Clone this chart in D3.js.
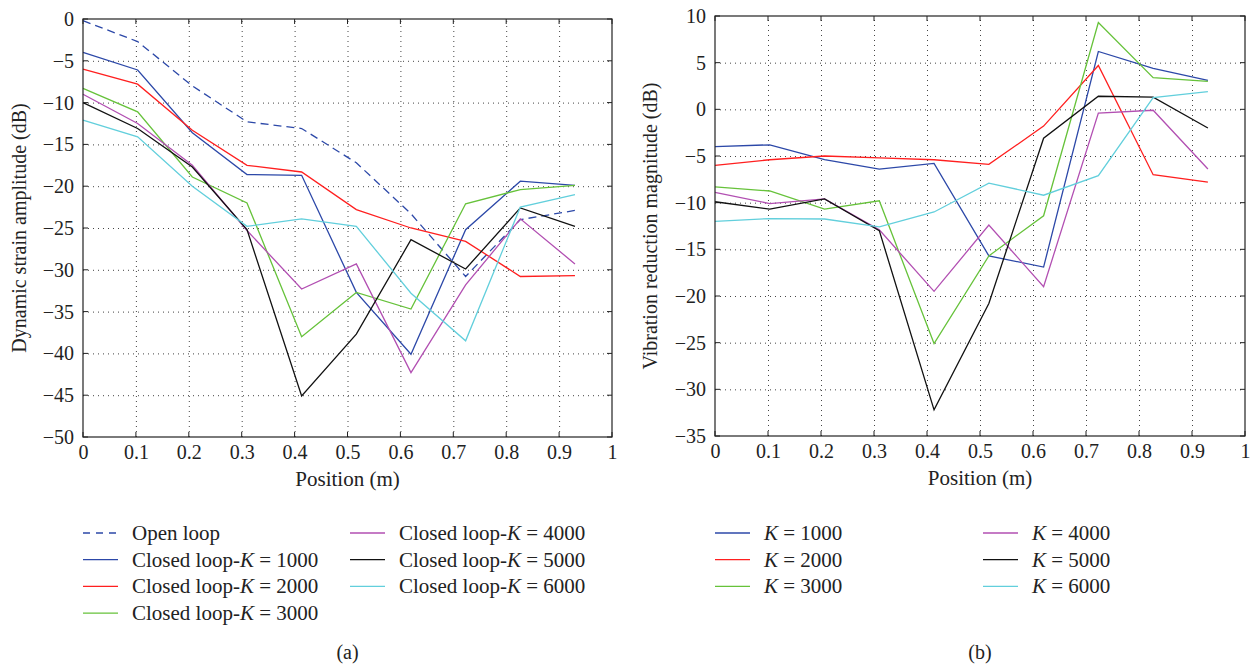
<!DOCTYPE html>
<html>
<head>
<meta charset="utf-8">
<script src="https://cdn.jsdelivr.net/npm/d3@7"></script>
<style>
  body { margin: 0; background: #fff; }
  svg text { font-family: "Liberation Serif", "DejaVu Serif", serif; fill: #222; }
  .grid line { stroke: #444; stroke-dasharray: 1,4; stroke-width: 1; }
  .grid path { display: none; }
  .lab text { font-size: 20px; }
  .lab path, .lab line { display: none; }
</style>
</head>
<body>
<div class="canvas"></div>
<script>
// positions along the beam (m)
const positions = [0, 0.1033, 0.2067, 0.31, 0.4133, 0.5167, 0.62, 0.7233, 0.8267, 0.93];

// (a) dynamic strain amplitude (dB)
const openLoop   = [-0.2, -2.7, -8.0, -12.3, -13.1, -17.2, -23.3, -30.8, -24.0, -22.9];
const closedK1000 = [-4.0, -6.1, -13.6, -18.6, -18.7, -32.7, -40.1, -25.2, -19.4, -19.9];
const closedK2000 = [-6.0, -7.8, -13.3, -17.5, -18.3, -22.8, -25.0, -26.6, -30.8, -30.7];
const closedK3000 = [-8.3, -11.1, -18.9, -22.0, -38.0, -32.7, -34.7, -22.1, -20.4, -19.9];
const closedK4000 = [-9.0, -12.5, -17.5, -25.3, -32.3, -29.3, -42.3, -31.8, -23.9, -29.3];
const closedK5000 = [-10.0, -13.1, -17.7, -25.2, -45.1, -37.7, -26.4, -29.9, -22.6, -24.8];
const closedK6000 = [-12.1, -14.1, -20.0, -24.8, -23.9, -24.8, -32.8, -38.5, -22.5, -21.0];

// (b) vibration reduction magnitude (dB)
const redK1000 = [-4.0, -3.8, -5.4, -6.4, -5.8, -15.7, -16.9, 6.2, 4.4, 3.1];
const redK2000 = [-6.0, -5.4, -5.0, -5.2, -5.4, -5.9, -1.8, 4.7, -7.0, -7.8];
const redK3000 = [-8.3, -8.75, -10.7, -9.8, -25.1, -15.7, -11.4, 9.3, 3.4, 3.0];
const redK4000 = [-8.9, -10.1, -9.6, -12.9, -19.5, -12.4, -19.0, -0.4, -0.1, -6.4];
const redK5000 = [-9.9, -10.7, -9.6, -13.0, -32.2, -20.8, -3.1, 1.4, 1.3, -2.0];
const redK6000 = [-12.0, -11.7, -11.75, -12.6, -11.0, -7.9, -9.2, -7.1, 1.25, 1.9];

const xTicks = [0, 0.1, 0.2, 0.3, 0.4, 0.5, 0.6, 0.7, 0.8, 0.9, 1];
const yTicksA = [0, -5, -10, -15, -20, -25, -30, -35, -40, -45, -50];
const yTicksB = [10, 5, 0, -5, -10, -15, -20, -25, -30, -35];

const colors = ['#2c48a8', '#ff1f1f', '#66c23a', '#b24fb2', '#111111', '#62cfdc'];

const svg = d3.select('.canvas').append('svg')
    .attr('width', 1255)
    .attr('height', 665);

function fmt(d) {
  return d < 0 ? '\u2212' + Math.abs(d) : String(d);
}

function panel(opt) {
  const g = svg.append('g');
  const x = d3.scaleLinear().domain([0, 1]).range([opt.left, opt.right]);
  const y = d3.scaleLinear().domain(opt.yDomain).range([opt.top, opt.bottom]);
  const w = opt.right - opt.left, h = opt.bottom - opt.top;

  // dotted grid
  g.append('g').attr('class', 'grid')
      .attr('transform', `translate(0,${opt.bottom})`)
      .call(d3.axisBottom(x).tickValues(xTicks.slice(1, -1)).tickSize(-h).tickFormat(''));
  g.append('g').attr('class', 'grid')
      .attr('transform', `translate(${opt.left},0)`)
      .call(d3.axisLeft(y).tickValues(opt.yTicks.slice(1, -1)).tickSize(-w).tickFormat(''));

  // inner ticks on all sides
  const tk = 5;
  xTicks.forEach(t => {
    g.append('line').attr('x1', x(t)).attr('x2', x(t)).attr('y1', opt.bottom).attr('y2', opt.bottom - tk).attr('stroke', '#222');
    g.append('line').attr('x1', x(t)).attr('x2', x(t)).attr('y1', opt.top).attr('y2', opt.top + tk).attr('stroke', '#222');
  });
  opt.yTicks.forEach(t => {
    g.append('line').attr('x1', opt.left).attr('x2', opt.left + tk).attr('y1', y(t)).attr('y2', y(t)).attr('stroke', '#222');
    g.append('line').attr('x1', opt.right).attr('x2', opt.right - tk).attr('y1', y(t)).attr('y2', y(t)).attr('stroke', '#222');
  });

  // tick labels
  g.append('g').attr('class', 'lab')
      .attr('transform', `translate(0,${opt.bottom})`)
      .call(d3.axisBottom(x).tickValues(xTicks).tickSize(0).tickPadding(8).tickFormat(d => String(d)));
  g.append('g').attr('class', 'lab')
      .attr('transform', `translate(${opt.left},0)`)
      .call(d3.axisLeft(y).tickValues(opt.yTicks).tickSize(0).tickPadding(9).tickFormat(fmt));

  // lines
  const line = d3.line().x((d, i) => x(positions[i])).y(d => y(d));
  opt.series.forEach(s => {
    g.append('path')
        .attr('d', line(s.values))
        .attr('fill', 'none')
        .attr('stroke', s.color)
        .attr('stroke-width', 1.3)
        .attr('stroke-dasharray', s.dash || null);
  });

  // frame
  g.append('rect')
      .attr('x', opt.left).attr('y', opt.top)
      .attr('width', w).attr('height', h)
      .attr('fill', 'none').attr('stroke', '#222').attr('stroke-width', 1.2);

  // axis titles
  g.append('text')
      .attr('x', (opt.left + opt.right) / 2).attr('y', opt.bottom + 49)
      .attr('text-anchor', 'middle').attr('font-size', 21)
      .text('Position (m)');
  g.append('text')
      .attr('transform', `translate(${opt.yLabelX},${(opt.top + opt.bottom) / 2}) rotate(-90)`)
      .attr('text-anchor', 'middle').attr('font-size', 20)
      .text(opt.yLabel);

  // legend
  opt.legend.forEach(it => {
    g.append('line')
        .attr('x1', it.x).attr('x2', it.x + 35)
        .attr('y1', it.y).attr('y2', it.y)
        .attr('stroke', it.color).attr('stroke-width', 1.3)
        .attr('stroke-dasharray', it.dash || null);
    const t = g.append('text')
        .attr('x', it.x + 49).attr('y', it.y + 7)
        .attr('font-size', 21);
    t.append('tspan').text(it.pre);
    if (it.k) {
      t.append('tspan').attr('font-style', 'italic').text('K');
      t.append('tspan').text(' = ' + it.k);
    }
  });

  g.append('text')
      .attr('x', (opt.left + opt.right) / 2).attr('y', 659)
      .attr('text-anchor', 'middle').attr('font-size', 20)
      .text(opt.caption);
}

const seriesA = [closedK1000, closedK2000, closedK3000, closedK4000, closedK5000, closedK6000];
const seriesB = [redK1000, redK2000, redK3000, redK4000, redK5000, redK6000];
const kValues = [1000, 2000, 3000, 4000, 5000, 6000];

const legA = [{ x: 83, y: 533, color: colors[0], dash: '7,6', pre: 'Open loop' }];
kValues.forEach((k, i) => {
  const col = i < 3 ? 0 : 1;
  const row = i < 3 ? i + 1 : i - 3;
  legA.push({ x: col ? 350 : 83, y: 533 + row * 26.7, color: colors[i], pre: 'Closed loop-', k: k });
});

const legB = kValues.map((k, i) => ({
  x: i < 3 ? 715 : 983,
  y: 533 + (i % 3) * 26.7,
  color: colors[i], pre: '', k: k
}));

panel({
  left: 83, right: 612, top: 19, bottom: 437,
  yDomain: [0, -50], yTicks: yTicksA,
  yLabel: 'Dynamic strain amplitude (dB)', yLabelX: 26,
  series: [{ values: openLoop, color: colors[0], dash: '8,5' }]
      .concat(seriesA.map((v, i) => ({ values: v, color: colors[i] }))),
  legend: legA, caption: '(a)'
});

panel({
  left: 715, right: 1245, top: 16, bottom: 436,
  yDomain: [10, -35], yTicks: yTicksB,
  yLabel: 'Vibration reduction magnitude (dB)', yLabelX: 657,
  series: seriesB.map((v, i) => ({ values: v, color: colors[i] })),
  legend: legB, caption: '(b)'
});
</script>
</body>
</html>
